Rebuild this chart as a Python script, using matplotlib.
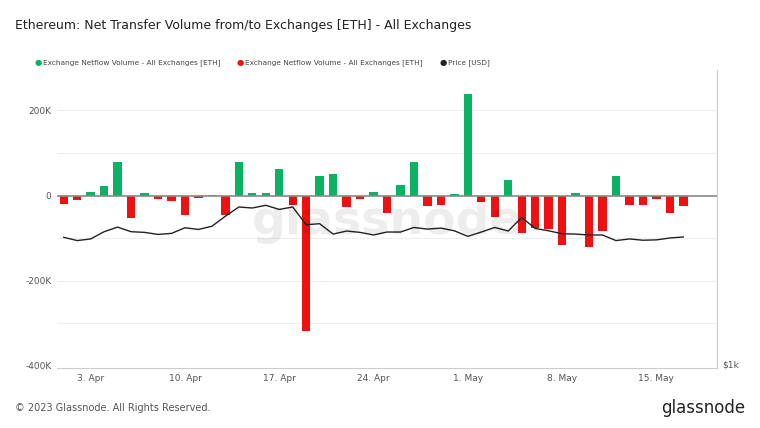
import matplotlib
matplotlib.use("Agg")
import matplotlib.pyplot as plt
import numpy as np
import pandas as pd

dates = pd.date_range("2023-04-01", "2023-05-17", freq="D")
netflow_k = [-20, -10, 9, 22, 78, -52, 5, -7, -12, -45, -6, 1, -46, 78, 6, 7, 63, -23, -317, 45,
             51, -27, -9, 9, -42, 24, 80, -25, -23, 4, 238, -15, -51, 37, -89, -75, -78, -115, 7, -121,
             -84, 45, -21, -21, -7, -40, -24]
price = [1820, 1792, 1806, 1869, 1910, 1869, 1863, 1845, 1854, 1904, 1889, 1918, 2011, 2101, 2091, 2118,
         2077, 2101, 1932, 1941, 1848, 1875, 1863, 1840, 1866, 1866, 1907, 1892, 1901, 1877, 1828, 1866,
         1907, 1875, 2000, 1898, 1877, 1851, 1848, 1840, 1840, 1792, 1806, 1795, 1798, 1814, 1823]
yticks = [-400, -200, 0, 200]
ytick_labels = ["-400K", "-200K", "0", "200K"]
xtick_dates = ["2023-04-03", "2023-04-10", "2023-04-17", "2023-04-24", "2023-05-01", "2023-05-08", "2023-05-15"]
xtick_labels = ["3. Apr", "10. Apr", "17. Apr", "24. Apr", "1. May", "8. May", "15. May"]

GREEN = "#0ab364"
RED = "#ee1111"

fig = plt.figure(figsize=(7.6, 4.28), dpi=100)
ax = fig.add_axes([57/760, 1-368/428, (717-57)/760, (368-70)/428])
vals = np.array(netflow_k)
pos = np.where(vals > 0, vals, 0)
neg = np.where(vals < 0, vals, 0)
ax.bar(dates, pos, width=0.62, color=GREEN, zorder=3)
ax.bar(dates, neg, width=0.62, color=RED, zorder=3)
ax.axhline(0, color="#888888", lw=1.2, zorder=4)
ax.set_ylim(-405, 295)
ax.set_xlim(pd.Timestamp("2023-03-31 12:00"), pd.Timestamp("2023-05-19 12:00"))
ax.set_yticks(yticks)
ax.set_yticklabels(ytick_labels)
for y in [-300, -200, -100, 100, 200]:
    ax.axhline(y, color="#eeeeee", lw=0.8, zorder=0)
ax.set_xticks(pd.to_datetime(xtick_dates))
ax.set_xticklabels(xtick_labels)
ax.tick_params(axis="both", length=0, labelsize=6.5, colors="#555555", pad=4)
for s in ["top", "left"]:
    ax.spines[s].set_visible(False)
ax.spines["bottom"].set_color("#cccccc")
ax.spines["right"].set_color("#cccccc")

ax2 = ax.twinx()
ax2.plot(dates, price, color="#222222", lw=1.0, zorder=5)
ax2.set_yscale("log")
ax2.set_ylim(980, 4020)
ax2.set_yticks([1000])
ax2.set_yticklabels(["$1k"])
ax2.yaxis.set_minor_locator(matplotlib.ticker.NullLocator())
ax2.tick_params(axis="y", length=0, labelsize=6.5, colors="#555555", pad=4)
for s in ["top", "left", "bottom"]:
    ax2.spines[s].set_visible(False)
ax2.spines["right"].set_color("#cccccc")

fig.text(0.5 * (57 + 717) / 760, 1 - 222/428, "glassnode", fontsize=34, color="#000000", alpha=0.07,
         ha="center", va="center", fontweight="bold")

fig.text(15/760, 1-25/428, "Ethereum: Net Transfer Volume from/to Exchanges [ETH] - All Exchanges",
         fontsize=9, color="#222222", va="center")
ly = 1 - 63/428
items = [(35, GREEN, "Exchange Netflow Volume - All Exchanges [ETH]"),
         (237, RED, "Exchange Netflow Volume - All Exchanges [ETH]"),
         (440, "#222222", "Price [USD]")]
for x, c, t in items:
    fig.text(x/760, ly, "\u25CF", color=c, fontsize=6, va="center")
    fig.text((x + 8)/760, ly, t, color="#444444", fontsize=5.3, va="center")

fig.text(15/760, 1-408/428, "\u00A9 2023 Glassnode. All Rights Reserved.", fontsize=7, color="#555555", va="center")
fig.text(745/760, 1-408/428, "glassnode", fontsize=12, color="#222222", va="center", ha="right")

fig.savefig("out.png", dpi=100, facecolor="white")
